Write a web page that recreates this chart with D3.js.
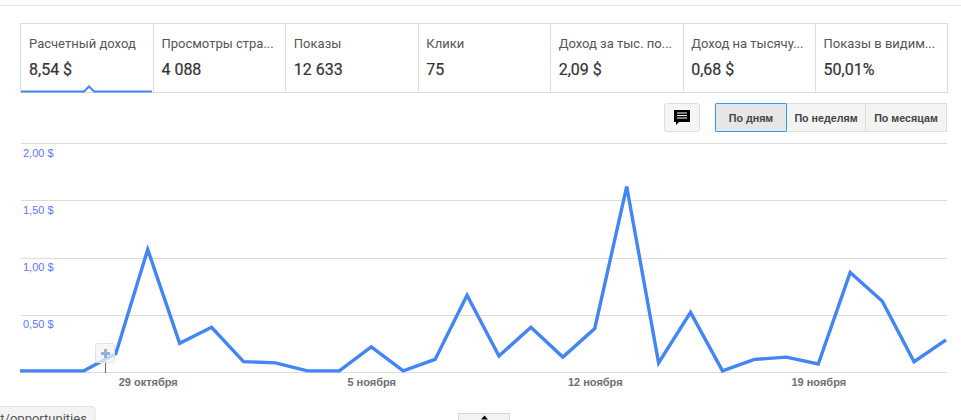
<!DOCTYPE html>
<html>
<head>
<meta charset="utf-8">
<title>Расчетный доход</title>
<script src="https://d3js.org/d3.v7.min.js"></script>
<style>
    html, body { margin: 0; padding: 0; background: #fff; overflow: hidden; }
    svg { display: block; }
    .tab-label { font: 13px Roboto, sans-serif; fill: #555; }
    .tab-value { font: 400 16px Roboto, sans-serif; fill: #333; stroke: #333; stroke-width: 0.2px; }
    .btn-label { font: bold 10.7px "Liberation Sans", Arial, sans-serif; fill: #444; text-anchor: middle; }
    .y-axis text { font: 11px "Liberation Sans", Arial, sans-serif; fill: #5b78f6; }
    .x-axis text { font: bold 11px "Liberation Sans", Arial, sans-serif; fill: #6f6f6f; }
</style>
</head>
<body>
<svg width="961" height="420"></svg>
<script>
    var tabLabels = ["Расчетный доход", "Просмотры стра...", "Показы", "Клики", "Доход за тыс. по...", "Доход на тысячу...", "Показы в видим..."];
    var tabValues = ["8,54 $", "4 088", "12 633", "75", "2,09 $", "0,68 $", "50,01%"];
    var rangeButtons = ["По дням", "По неделям", "По месяцам"];

    // one value per day, 25 oct - 23 nov
    var dayIndex = d3.range(30);
    var revenue = [0.01, 0.01, 0.01, 0.16, 1.07, 0.25, 0.39, 0.09, 0.08, 0.01,
                   0.01, 0.22, 0.01, 0.11, 0.67, 0.14, 0.39, 0.13, 0.38, 1.62,
                   0.08, 0.52, 0.01, 0.11, 0.13, 0.07, 0.87, 0.62, 0.09, 0.28];
    var yTicks = [0, 0.5, 1, 1.5, 2];
    var xTickDays = [4, 11, 18, 25];
    var xTickLabels = ["29 октября", "5 ноября", "12 ноября", "19 ноября"];

    var svg = d3.select("svg");

    // rule at the very top of the page
    svg.append("line").attr("x1", 0).attr("x2", 961).attr("y1", 5.5).attr("y2", 5.5)
        .attr("stroke", "#e3e3e3");

    // scorecard tabs
    var tabX = d3.scaleLinear().domain([0, 7]).range([20.5, 947.5]);
    var tabs = svg.append("g");
    tabs.append("rect").attr("x", 20.5).attr("y", 23.5).attr("width", 927).attr("height", 69)
        .attr("fill", "#fff").attr("stroke", "#dcdcdc");
    tabs.selectAll("line.sep").data(d3.range(1, 7)).enter().append("line")
        .attr("class", "sep")
        .attr("x1", function(d) { return Math.round(tabX(d)) + 0.5; })
        .attr("x2", function(d) { return Math.round(tabX(d)) + 0.5; })
        .attr("y1", 23.5).attr("y2", 92.5).attr("stroke", "#dcdcdc");
    tabs.selectAll("text.tab-label").data(tabLabels).enter().append("text")
        .attr("class", "tab-label")
        .attr("x", function(d, i) { return tabX(i) + 8.5; })
        .attr("y", 48)
        .text(function(d) { return d; });
    tabs.selectAll("text.tab-value").data(tabValues).enter().append("text")
        .attr("class", "tab-value")
        .attr("x", function(d, i) { return tabX(i) + 8.5; })
        .attr("y", 75)
        .text(function(d) { return d; });

    // blue underline with the little notch on the selected tab
    tabs.append("path")
        .attr("d", "M21,91.5H84L89,86.5L94,91.5H152")
        .attr("fill", "#fff").attr("stroke", "#4285f4").attr("stroke-width", 2);

    // annotation button
    svg.append("rect").attr("x", 664.5).attr("y", 103.5).attr("width", 35).attr("height", 28).attr("rx", 2)
        .attr("fill", "#f5f5f5").attr("stroke", "#dedede");
    svg.append("path").attr("d", "M674,110H690V122H679L676,125V122H674Z").attr("fill", "#000");
    svg.append("path").attr("d", "M677,113H687M677,115.5H687M677,118H687").attr("stroke", "#fff").attr("fill", "none");

    // day / week / month buttons
    var btnEdges = [715.5, 786.5, 865.5, 946.5];
    var btnX = d3.scaleOrdinal().domain(rangeButtons).range(btnEdges);
    var btns = svg.append("g");
    btns.selectAll("rect").data(rangeButtons).enter().append("rect")
        .attr("x", function(d) { return btnX(d); })
        .attr("y", 103.5)
        .attr("width", function(d, i) { return btnEdges[i + 1] - btnEdges[i]; })
        .attr("height", 28)
        .attr("fill", function(d, i) { return i == 0 ? "#e6e6e6" : "#f3f3f3"; })
        .attr("stroke", "#dedede");
    btns.append("rect").attr("x", 715.5).attr("y", 103.5).attr("width", 71).attr("height", 28).attr("rx", 1)
        .attr("fill", "none").attr("stroke", "#2c9af0");
    btns.selectAll("text").data(rangeButtons).enter().append("text")
        .attr("class", "btn-label")
        .attr("x", function(d, i) { return (btnEdges[i] + btnEdges[i + 1]) / 2; })
        .attr("y", 122)
        .text(function(d) { return d; });

    // chart
    var x = d3.scaleLinear().domain([0, 29]).range([20, 946]);
    var y = d3.scaleLinear().domain([0, 2]).range([372, 143]);

    var yAxis = d3.axisLeft(y)
        .tickValues(yTicks)
        .tickSize(-926)
        .tickFormat(function(d) { return d3.format(".2f")(d).replace(".", ",") + " $"; });
    var yG = svg.append("g").attr("class", "y-axis").attr("transform", "translate(20.5,0)").call(yAxis);
    yG.select(".domain").remove();
    yG.selectAll("line").attr("stroke", "#dcdcdc").attr("shape-rendering", "crispEdges");
    yG.selectAll("text")
        .attr("text-anchor", "start")
        .attr("x", 2.5)
        .attr("dy", 13);
    yG.selectAll(".tick").filter(function(d) { return d == 0; }).select("text").remove();

    var xAxis = d3.axisBottom(x)
        .tickValues(xTickDays)
        .tickSize(0)
        .tickPadding(0)
        .tickFormat(function(d, i) { return xTickLabels[i]; });
    var xG = svg.append("g").attr("class", "x-axis").attr("transform", "translate(0,372.5)").call(xAxis);
    xG.select(".domain").remove();
    xG.selectAll("text").attr("y", 13).attr("dy", 0);

    var line = d3.line()
        .x(function(d) { return x(d); })
        .y(function(d, i) { return y(revenue[i]); });
    svg.append("path")
        .datum(dayIndex)
        .attr("d", line)
        .attr("fill", "none")
        .attr("stroke", "#4285f4")
        .attr("stroke-width", 3.4);

    // note marker, sits over the line and washes it out a bit
    svg.append("line").attr("x1", 105.5).attr("x2", 105.5).attr("y1", 362).attr("y2", 373).attr("stroke", "#666");
    svg.append("rect").attr("x", 95.5).attr("y", 343.5).attr("width", 19).attr("height", 19).attr("rx", 2)
        .attr("fill", "#f3f3f3").attr("fill-opacity", 0.75).attr("stroke", "#e2e2e2");
    svg.append("path").attr("d", "M105.5,349V358M101,353.5H110").attr("stroke", "#8fb4dc").attr("stroke-width", 3);

    // bits of the page showing at the bottom edge
    svg.append("rect").attr("x", -10).attr("y", 406.5).attr("width", 105).attr("height", 30).attr("rx", 4)
        .attr("fill", "#f3f3f3").attr("stroke", "#e0e0e0");
    svg.append("text").attr("x", -7).attr("y", 423).attr("fill", "#555")
        .style("font", "13px Roboto, sans-serif").text("pt/opportunities");
    svg.append("rect").attr("x", 458.5).attr("y", 413.5).attr("width", 51).attr("height", 20)
        .attr("fill", "#f3f3f3").attr("stroke", "#d8d8d8");
    svg.append("path").attr("d", "M484.5,415.5L488,419.5H481Z").attr("fill", "#000");
</script>
</body>
</html>
